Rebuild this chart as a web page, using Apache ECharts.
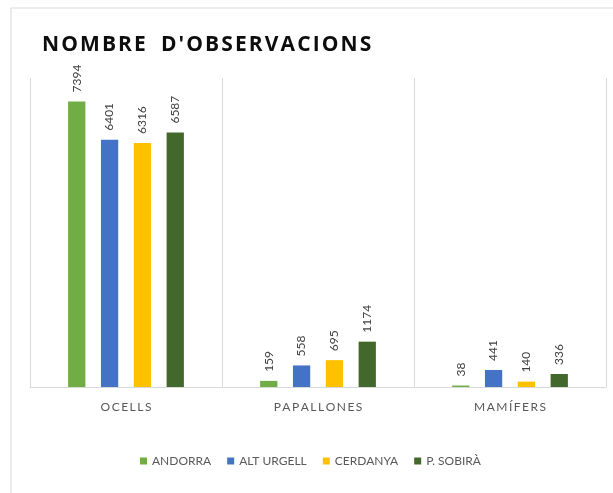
<!DOCTYPE html>
<html>
<head>
<meta charset="utf-8">
<script src="https://cdn.jsdelivr.net/npm/echarts@6/dist/echarts.min.js"></script>
<style>html,body{margin:0;padding:0;background:#fff}#c{width:613px;height:493px}</style>
</head>
<body>
<div id="c"></div>
<script>
const titleText = "NOMBRE D'OBSERVACIONS";
const categories = ['OCELLS', 'PAPALLONES', 'MAMÍFERS'];
const seriesNames = ['ANDORRA', 'ALT URGELL', 'CERDANYA', 'P. SOBIRÀ'];
const andorra = [7394, 159, 38];
const altUrgell = [6401, 558, 441];
const cerdanya = [6316, 695, 140];
const pSobira = [6587, 1174, 336];
const colors = ['#70AD47', '#4472C4', '#FFC000', '#43682B'];
const values = [andorra, altUrgell, cerdanya, pSobira];

const chart = echarts.init(document.getElementById('c'));
chart.setOption({
  animation: false,
  title: {
    text: titleText.split('').join('\u200A').replace(' ', '  '),
    left: 37, top: 30,
    textStyle: { fontFamily: 'Open Sans', fontWeight: 'bold', fontSize: 21, color: '#0d0d0d' }
  },
  graphic: [{
    type: 'rect', shape: { x: 11, y: 8, width: 640, height: 520 },
    style: { fill: 'none', stroke: '#d9d9d9', lineWidth: 1 }, silent: true
  }],
  legend: {
    bottom: 21, left: 135,
    icon: 'rect', itemWidth: 7, itemHeight: 7, itemGap: 16,
    textStyle: { fontFamily: 'Lato', fontSize: 12, color: '#595959' },
    data: seriesNames
  },
  grid: { left: 30, right: 7, top: 78, bottom: 106 },
  xAxis: {
    type: 'category', data: categories,
    axisLine: { lineStyle: { color: '#d9d9d9' } },
    axisTick: { show: false },
    splitLine: { show: true, lineStyle: { color: '#d9d9d9' } },
    axisLabel: {
      margin: 14, fontFamily: 'Lato', fontSize: 12, color: '#595959',
      formatter: v => v.split('').join('\u2009')
    }
  },
  yAxis: { type: 'value', min: 0, max: 8000, show: false, splitLine: { show: false } },
  series: seriesNames.map((n, i) => ({
    name: n, type: 'bar', data: values[i], barWidth: '9%', barGap: '90%',
    itemStyle: { color: colors[i] },
    label: {
      show: true, position: 'top', rotate: 90, align: 'left', verticalAlign: 'middle', distance: 9,
      fontFamily: 'Lato', fontSize: 12, color: '#404040'
    }
  }))
});
</script>
</body>
</html>
